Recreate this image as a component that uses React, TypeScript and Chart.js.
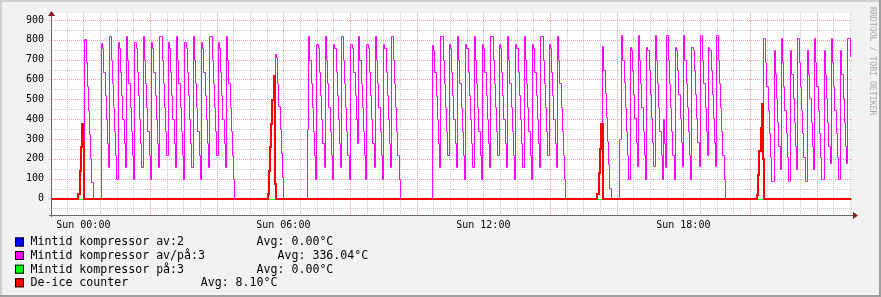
import { useEffect, useRef } from "react";
import { Chart, registerables } from "chart.js";

Chart.register(...registerables);

const FONT = '"DejaVu Sans Mono", monospace';

// time axis: minutes relative to Sun 00:00
const X_MIN = -58.2;
const X_MAX = 1381.8;
const SAMPLE_MIN = 30 / 14; // spacing of stored samples (minutes)
const Y_MIN = -83;
const Y_MAX = 935;

const X_TICK_MINUTES = [0, 360, 720, 1080];
const X_TICK_LABELS = ["Sun 00:00", "Sun 06:00", "Sun 12:00", "Sun 18:00"];
const Y_TICK_VALUES = [0, 100, 200, 300, 400, 500, 600, 700, 800, 900];
const X_MINOR_STEP = 30;
const X_MAJOR_STEP = 120;
const Y_MINOR_STEP = 50;
const Y_MAJOR_STEP = 100;

const SERIES_NAMES = [
  "Mintid kompressor av:2",
  "Mintid kompressor av/på:3",
  "Mintid kompressor på:3",
  "De-ice counter",
];
const SERIES_AVG = ["Avg: 0.00°C", "Avg: 336.04°C", "Avg: 0.00°C", "Avg: 8.10°C"];
const SERIES_COLORS = ["#0000FF", "#FF00FF", "#00FF00", "#FF0000"];
const SERIES_WIDTHS = [1, 1, 1, 2];

// ---- "Mintid kompressor av/på:3" (magenta) runs ----
const MAG_A = [806, 686, 566, 447, 326, 205, 83, 0];
const MAG_B = [
  785, 760, 640, 520, 400, 280, 160, 820, 700, 580, 460, 340, 220, 100,
  790, 760, 640, 520, 400, 280, 160, 820, 700, 580, 460, 340, 220, 100,
  790, 760, 640, 520, 400, 280, 160, 820, 700, 580, 460, 340, 220, 100,
  790, 760, 640, 520, 400, 280, 160, 820, 820, 700, 580, 460, 340, 220,
  790, 760, 640, 520, 400, 280, 160, 820, 700, 580, 460, 340, 220, 100,
  790, 760, 640, 520, 400, 280, 160, 820, 700, 580, 460, 340, 220, 100,
  790, 760, 640, 520, 400, 280, 160, 820, 820, 700, 580, 460, 340, 220,
  790, 760, 640, 520, 400, 280, 160, 820, 700, 580, 460, 340, 220, 100,
  0,
];
const MAG_C = [728, 711, 584, 467, 350, 228, 107, 0];
const MAG_D = [
  349,
  820, 700, 580, 460, 340, 220, 100, 780, 760, 640, 520, 400, 280, 160,
  820, 700, 580, 460, 340, 220, 100, 780, 760, 640, 520, 400, 280, 160,
  820, 700, 580, 460, 340, 220, 100, 780, 780, 760, 640, 520, 400, 280,
  820, 700, 580, 460, 340, 220, 100, 780, 760, 640, 520, 400, 280, 160,
  820, 700, 580, 460, 340, 220, 100, 780, 760, 640, 520, 400, 280, 160,
  820, 700, 580, 460, 340, 220, 100,
  0,
];
const MAG_E = [
  775, 750, 640, 515, 400, 280, 160, 820, 820, 700, 580, 460, 340, 220,
  780, 760, 640, 520, 400, 280, 160, 820, 700, 580, 460, 340, 220, 100,
  780, 760, 640, 520, 400, 280, 160, 820, 700, 580, 460, 340, 220, 100,
  780, 760, 640, 520, 400, 280, 160, 820, 820, 700, 580, 460, 340, 220,
  780, 760, 640, 520, 400, 280, 160, 820, 700, 580, 460, 340, 220, 100,
  780, 760, 640, 520, 400, 280, 160, 820, 700, 580, 460, 340, 220, 100,
  780, 760, 640, 520, 400, 280, 160, 820, 820, 700, 580, 460, 340, 220,
  780, 760, 640, 520, 400, 280, 160, 820, 700, 580, 460, 340, 220, 100,
  0,
];
const MAG_F = [771, 650, 531, 412, 291, 172, 51, 0];
const MAG_G = [
  299, 299,
  826, 700, 589, 460, 340, 220, 100, 766, 750, 646, 527, 407, 283, 164,
  826, 700, 580, 460, 340, 220, 100, 766, 750, 646, 527, 407, 283, 164,
  826, 700, 580, 460, 340, 220, 100, 400, 280, 160,
  826, 700, 580, 460, 340, 220, 100, 766, 750, 646, 527, 407, 283, 164,
  826, 700, 580, 460, 340, 220, 100, 766, 750, 646, 527, 407, 283, 164,
  826, 826, 700, 580, 460, 340, 220, 766, 750, 646, 527, 407, 283, 164,
  826, 700, 580, 460, 340, 220, 100,
  0,
];
const MAG_H = [
  809, 809, 688, 569, 448, 328, 209, 87, 87, 750, 630, 506, 387, 266, 147,
  809, 688, 569, 448, 328, 209, 87, 87, 750, 630, 506, 387, 266, 147,
  809, 688, 569, 448, 328, 209, 87, 87, 750, 630, 506, 387, 266, 147,
  809, 688, 569, 448, 328, 209, 100, 100, 750, 630, 506, 387, 266, 180,
  809, 688, 569, 448, 328, 209, 100, 100, 750, 630, 506, 387, 266, 180,
  809, 809, 720, 720,
];
const MAG_STARTS = [1.8, 31.8, 344.66, 402.5, 627.5, 933.9, 963.9, 1223.2];
const MAG_RUNS = [MAG_A, MAG_B, MAG_C, MAG_D, MAG_E, MAG_F, MAG_G, MAG_H];

// ---- "De-ice counter" (red) runs ----
const RED_A = [25, 137, 258, 377, 283, 0];
const RED_C = [25, 137, 260, 375, 497, 617, 71, 0];
const RED_F = [25, 129, 250, 374, 374, 0];
const RED_H = [18, 121, 238, 357, 477, 200, 0];
const RED_STARTS = [-8.9, 331.8, 925.4, 1212.5];
const RED_RUNS = [RED_A, RED_C, RED_F, RED_H];

// blue / green stay at 0 over the whole period
const FLAT_STARTS: number[] = [];
const FLAT_RUNS: number[][] = [];

function buildSeries(starts: number[], runs: number[][]) {
  const pts: { x: number; y: number }[] = [{ x: X_MIN, y: 0 }];
  let last = 0;
  starts.forEach((s, r) => {
    runs[r].forEach((v, k) => {
      pts.push({ x: s + k * SAMPLE_MIN, y: v });
      last = v;
    });
  });
  pts.push({ x: X_MAX, y: last });
  return pts;
}

const rrdPlugin = {
  id: "rrdLook",
  beforeDraw(chart: any) {
    const { ctx, chartArea: a, width, height } = chart;
    ctx.save();
    ctx.fillStyle = "#F2F2F2";
    ctx.fillRect(0, 0, width, height);
    ctx.fillStyle = "#CFCFCF";
    ctx.fillRect(0, 0, width, 2);
    ctx.fillRect(0, 0, 2, height);
    ctx.fillStyle = "#9E9E9E";
    ctx.fillRect(0, height - 2, width, 2);
    ctx.fillRect(width - 2, 0, 2, height);
    ctx.fillStyle = "#FFFFFF";
    ctx.fillRect(a.left, a.top, a.right - a.left, a.bottom - a.top);
    ctx.restore();
  },
  beforeDatasetsDraw(chart: any) {
    const { ctx, chartArea: a, scales } = chart;
    const xs = scales.x;
    const ys = scales.y;
    ctx.save();
    ctx.lineWidth = 1;
    ctx.setLineDash([1, 1]);
    const minorCol = "#C9C9C9";
    const majorCol = "#E6A5A5";
    for (let m = Math.ceil(X_MIN / X_MINOR_STEP) * X_MINOR_STEP; m <= X_MAX; m += X_MINOR_STEP) {
      const px = Math.round(xs.getPixelForValue(m)) + 0.5;
      ctx.strokeStyle = m % X_MAJOR_STEP === 0 ? majorCol : minorCol;
      ctx.beginPath();
      ctx.moveTo(px, a.top);
      ctx.lineTo(px, a.bottom + 2);
      ctx.stroke();
    }
    for (let v = Math.ceil(Y_MIN / Y_MINOR_STEP) * Y_MINOR_STEP; v <= Y_MAX; v += Y_MINOR_STEP) {
      const py = Math.round(ys.getPixelForValue(v)) + 0.5;
      ctx.strokeStyle = v % Y_MAJOR_STEP === 0 ? majorCol : minorCol;
      ctx.beginPath();
      ctx.moveTo(a.left - 2, py);
      ctx.lineTo(a.right + 2, py);
      ctx.stroke();
    }
    ctx.restore();
    // snap step corners to whole pixels so the lines stay crisp
    chart.getSortedVisibleDatasetMetas().forEach((meta: any) => {
      meta.data.forEach((el: any) => {
        el.x = Math.round(el.x);
        el.y = Math.round(el.y);
      });
    });
  },
  beforeDatasetDraw(chart: any, args: any) {
    const { ctx } = chart;
    ctx.save();
    const w = args.meta.dataset?.options?.borderWidth ?? 1;
    if (w % 2 === 1) ctx.translate(0.5, 0.5);
  },
  afterDatasetDraw(chart: any) {
    chart.ctx.restore();
  },
  afterDatasetsDraw(chart: any) {
    const { ctx, chartArea: a } = chart;
    ctx.save();
    ctx.setLineDash([]);
    ctx.lineWidth = 1;
    ctx.strokeStyle = "#686868";
    ctx.beginPath();
    ctx.moveTo(a.left - 2, a.bottom + 0.5);
    ctx.lineTo(a.right + 3, a.bottom + 0.5);
    ctx.moveTo(a.left + 0.5, a.bottom + 2);
    ctx.lineTo(a.left + 0.5, a.top - 1);
    ctx.stroke();
    ctx.fillStyle = "#8A1C1C";
    ctx.beginPath();
    ctx.moveTo(a.right + 2, a.bottom - 3);
    ctx.lineTo(a.right + 7, a.bottom + 0.5);
    ctx.lineTo(a.right + 2, a.bottom + 4);
    ctx.closePath();
    ctx.fill();
    ctx.beginPath();
    ctx.moveTo(a.left - 3, a.top + 3);
    ctx.lineTo(a.left + 0.5, a.top - 2);
    ctx.lineTo(a.left + 4, a.top + 3);
    ctx.closePath();
    ctx.fill();
    ctx.restore();
  },
  afterDraw(chart: any) {
    const { ctx } = chart;
    ctx.save();
    ctx.font = `11.6px ${FONT}`;
    ctx.textBaseline = "middle";
    ctx.textAlign = "left";
    const rowTops = [237.5, 251, 264.7, 278.3];
    SERIES_NAMES.forEach((name, i) => {
      const top = rowTops[i];
      ctx.fillStyle = SERIES_COLORS[i];
      ctx.fillRect(15, top, 9, 9);
      ctx.strokeStyle = "#000000";
      ctx.lineWidth = 1;
      ctx.strokeRect(15.5, top + 0.5, 8, 8);
      ctx.fillStyle = "#000000";
      const tx = 30.5;
      const ty = top + 4.8;
      ctx.fillText(name, tx, ty);
      const pad = ctx.measureText(name + "          ").width;
      ctx.fillText(SERIES_AVG[i], tx + pad + 2.7, ty);
    });
    ctx.font = `8.2px ${FONT}`;
    ctx.fillStyle = "#A9A9A9";
    ctx.translate(872, 7);
    ctx.rotate(Math.PI / 2);
    ctx.textBaseline = "middle";
    ctx.fillText("RRDTOOL / TOBI OETIKER", 0, 0);
    ctx.restore();
  },
};

export default function App() {
  const ref = useRef<HTMLCanvasElement | null>(null);

  useEffect(() => {
    document.body.style.margin = "0";
    const canvas = ref.current;
    if (!canvas) return;
    const mk = (i: number, data: any) => ({
      label: SERIES_NAMES[i],
      data,
      borderColor: SERIES_COLORS[i],
      backgroundColor: SERIES_COLORS[i],
      borderWidth: SERIES_WIDTHS[i],
      pointRadius: 0,
      pointHoverRadius: 0,
      stepped: "before" as const,
      fill: false,
      tension: 0,
    });
    // the first dataset is drawn on top: red, green, magenta, blue
    const chart = new Chart(canvas, {
      type: "line",
      data: {
        datasets: [
          mk(3, buildSeries(RED_STARTS, RED_RUNS)),
          mk(2, buildSeries(FLAT_STARTS, FLAT_RUNS)),
          mk(1, buildSeries(MAG_STARTS, MAG_RUNS)),
          mk(0, buildSeries(FLAT_STARTS, FLAT_RUNS)),
        ],
      },
      options: {
        responsive: false,
        animation: false,
        devicePixelRatio: 1,
        events: [],
        layout: { padding: { left: 0, top: 10, right: 30, bottom: 0 } },
        plugins: { legend: { display: false }, tooltip: { enabled: false } },
        scales: {
          x: {
            type: "linear",
            min: X_MIN,
            max: X_MAX,
            grid: { display: false, drawTicks: false },
            border: { display: false },
            afterBuildTicks: (s: any) => {
              s.ticks = X_TICK_MINUTES.map((value) => ({ value }));
            },
            afterFit: (s: any) => {
              s.height = 82;
            },
            ticks: {
              autoSkip: false,
              maxRotation: 0,
              minRotation: 0,
              padding: 4,
              color: "#000000",
              font: { family: FONT, size: 10 },
              callback: (_v: any, idx: number) => X_TICK_LABELS[idx],
            },
          },
          y: {
            type: "linear",
            min: Y_MIN,
            max: Y_MAX,
            grid: { display: false, drawTicks: false },
            border: { display: false },
            afterBuildTicks: (s: any) => {
              s.ticks = Y_TICK_VALUES.map((value) => ({ value }));
            },
            afterFit: (s: any) => {
              s.width = 51;
            },
            ticks: {
              autoSkip: false,
              padding: 7,
              color: "#000000",
              font: { family: FONT, size: 10 },
              callback: (v: any) => String(v),
            },
          },
        },
      },
      plugins: [rrdPlugin],
    });
    return () => chart.destroy();
  }, []);

  return (
    <div style={{ width: 881, height: 297 }}>
      <canvas ref={ref} width={881} height={297} style={{ display: "block", width: 881, height: 297 }} />
    </div>
  );
}
